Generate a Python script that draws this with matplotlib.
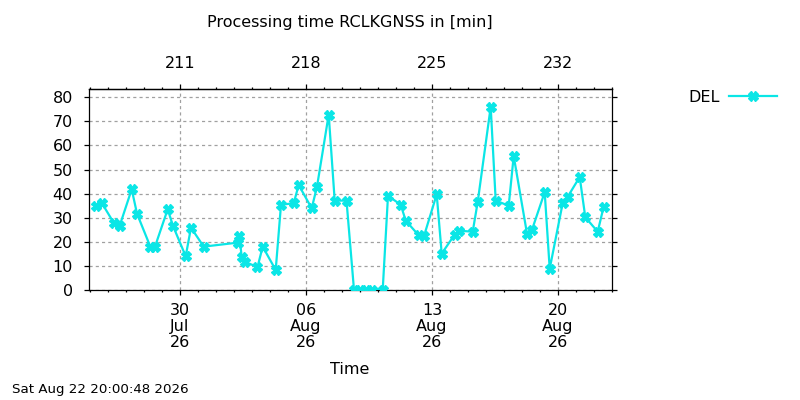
import matplotlib
matplotlib.use("Agg")
import matplotlib.pyplot as plt
import matplotlib.dates as mdates
from matplotlib.ticker import FuncFormatter
import pandas as pd

times = ["2026-07-25 07:36", "2026-07-25 15:36", "2026-07-26 08:00", "2026-07-26 15:36",
         "2026-07-27 07:36", "2026-07-27 14:40", "2026-07-28 08:24", "2026-07-28 14:40",
         "2026-07-29 07:36", "2026-07-29 14:40", "2026-07-30 07:36", "2026-07-30 14:40",
         "2026-07-31 07:36", "2026-08-02 06:00", "2026-08-02 07:04", "2026-08-02 10:16",
         "2026-08-02 14:40", "2026-08-03 07:20", "2026-08-03 14:16", "2026-08-04 07:36",
         "2026-08-04 14:40", "2026-08-05 07:36", "2026-08-05 14:16", "2026-08-06 07:36",
         "2026-08-06 14:40", "2026-08-07 06:16", "2026-08-07 14:16", "2026-08-08 06:00",
         "2026-08-08 16:00", "2026-08-09 00:00", "2026-08-09 08:00", "2026-08-09 16:00",
         "2026-08-10 06:16", "2026-08-10 13:20", "2026-08-11 06:16", "2026-08-11 12:56",
         "2026-08-12 06:16", "2026-08-12 13:20", "2026-08-13 06:16", "2026-08-13 12:56",
         "2026-08-14 06:16", "2026-08-14 12:24", "2026-08-15 06:16", "2026-08-15 12:56",
         "2026-08-16 06:16", "2026-08-16 12:56", "2026-08-17 06:16", "2026-08-17 12:56",
         "2026-08-18 06:40", "2026-08-18 13:20", "2026-08-19 06:16", "2026-08-19 12:56",
         "2026-08-20 06:16", "2026-08-20 12:56", "2026-08-21 04:56", "2026-08-21 12:24",
         "2026-08-22 04:56", "2026-08-22 12:56"]
del_values = [35.0, 36.2, 27.7, 26.7, 41.8, 31.7, 18.0, 18.0, 33.5, 26.6,
              14.0, 25.9, 18.0, 19.7, 22.6, 13.8, 11.7, 9.5, 18.0, 8.3,
              35.4, 36.0, 43.6, 33.9, 42.9, 72.8, 37.1, 37.1, 0, 0,
              0, 0, 0, 39.1, 35.4, 28.8, 22.7, 22.4, 39.7, 15.1,
              23.0, 24.6, 24.2, 36.5, 76.0, 37.1, 35.0, 55.6, 23.4, 25.0,
              40.6, 8.8, 36.1, 38.7, 46.9, 30.2, 24.2, 34.6]
series_label = "DEL"
y_ticks = [0, 10, 20, 30, 40, 50, 60, 70, 80]
title = "Processing time RCLKGNSS in [min]"
x_label = "Time"
stamp = "Sat Aug 22 20:00:48 2026"

t = pd.to_datetime(times)
color = "#0ae6e6"
fs = 11.5

fig = plt.figure(figsize=(8, 4), dpi=100)
ax = fig.add_axes([88.5 / 800, 1 - 290 / 400, (612 - 88.5) / 800, (290 - 89.3) / 400])

ax.plot(t, del_values, color=color, lw=1.6, marker="X", ms=6.5, mec=color, mfc=color,
        label=series_label, zorder=3)

ax.set_xlim(pd.Timestamp("2026-07-24 22:00"), pd.Timestamp("2026-08-23 00:00"))
ax.set_ylim(0, 83.3)
ax.set_yticks(y_ticks)
ax.xaxis.set_major_locator(mdates.WeekdayLocator(byweekday=mdates.TH))
ax.xaxis.set_minor_locator(mdates.DayLocator())
ax.xaxis.set_major_formatter(mdates.DateFormatter("%d\n%b\n%y"))

ax.grid(True, which="major", color="#a0a0a0", linestyle=(0, (2.5, 2.5)), lw=0.9)
ax.tick_params(axis="both", which="major", direction="out", length=3.3, width=0.9,
               labelsize=fs, right=True, pad=8)
ax.tick_params(axis="x", which="minor", direction="out", length=1.7, width=0.9)
ax.tick_params(axis="x", which="major", pad=6)
for lab in ax.get_xticklabels():
    lab.set_linespacing(1.1)
for s in ax.spines.values():
    s.set_linewidth(0.9)

sec = ax.secondary_xaxis("top", functions=(lambda x: x, lambda x: x))
sec.xaxis.set_major_locator(mdates.WeekdayLocator(byweekday=mdates.TH))
sec.xaxis.set_minor_locator(mdates.DayLocator())
sec.xaxis.set_major_formatter(FuncFormatter(lambda v, p: mdates.num2date(v).strftime("%j").lstrip("0")))
sec.tick_params(axis="x", which="major", direction="out", length=3.3, width=0.9,
                labelsize=fs, pad=10)
sec.tick_params(axis="x", which="minor", direction="out", length=1.7, width=0.9)
sec.spines["top"].set_linewidth(0.9)

fig.text(350 / 800, 1 - 23 / 400, title, ha="center", va="center", fontsize=fs)
fig.text(350 / 800, 1 - 369 / 400, x_label, ha="center", va="center", fontsize=fs)
fig.text(12 / 800, 1 - 390 / 400, stamp, ha="left", va="center", fontsize=9.6)

ax.legend(loc="center left", bbox_to_anchor=(688 / 800, 1 - 97 / 400),
          bbox_transform=fig.transFigure, frameon=False, markerfirst=False,
          handlelength=3.0, handletextpad=0.6, fontsize=fs, borderaxespad=0, borderpad=0)

fig.savefig("out.png", dpi=100)
